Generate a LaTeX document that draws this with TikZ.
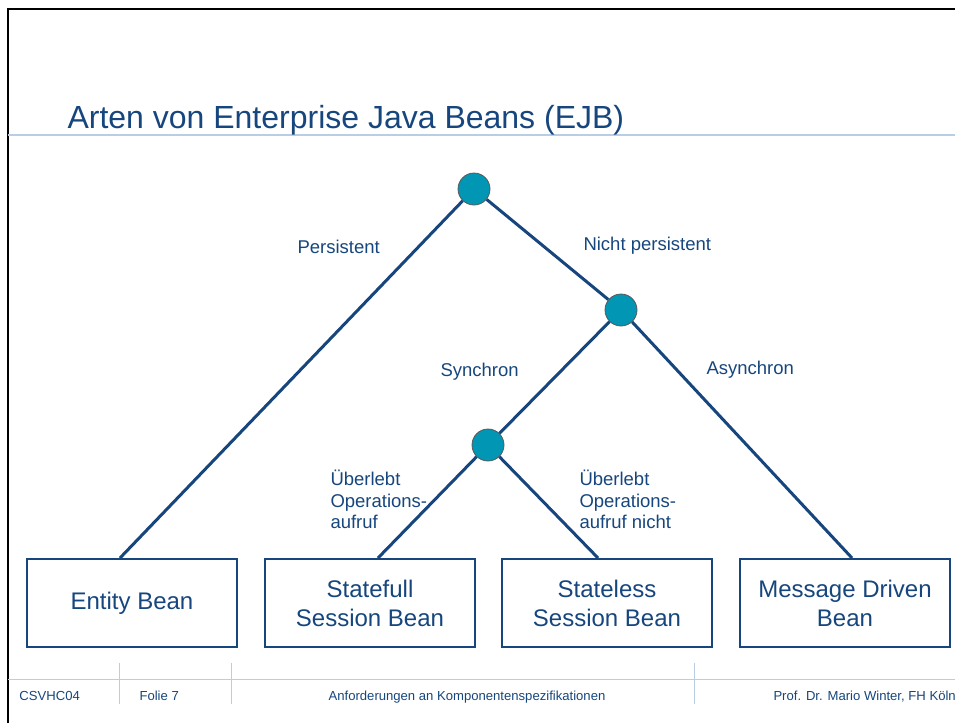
\documentclass[tikz,border=0pt]{standalone}
\usepackage{fontspec}
\setmainfont{Liberation Sans}
\definecolor{ejbblue}{RGB}{22,70,125}
\definecolor{ejbteal}{RGB}{0,150,180}
\definecolor{ejbrule}{RGB}{185,205,228}

\begin{document}
\begin{tikzpicture}[x=1pt, y=-1pt, line width=3pt,
    knoten/.style={circle, draw=black!65, line width=0.8pt, fill=ejbteal, minimum size=32pt, inner sep=0pt},
    bean/.style={draw=ejbblue, line width=2pt, minimum width=210pt, minimum height=88pt, align=center,
                 text=ejbblue, font=\fontsize{24}{29}\selectfont},
    kante/.style={draw=ejbblue},
    etikett/.style={text=ejbblue, inner sep=0pt, font=\fontsize{18.5}{21.5}\selectfont},
    fuss/.style={text=ejbblue, inner sep=0pt, font=\fontsize{13.1}{16}\selectfont}]
   \useasboundingbox (0,0) rectangle (955,723);
   % frame and rules
   \draw[black, line width=2.5pt] (8,723) -- (8,9) -- (955,9);
   \draw[ejbrule, line width=1.5pt] (8,135) -- (955,135);
   \draw[ejbrule, line width=1pt] (8,679) -- (955,679);
   \foreach \x in {119,231,694}
      \draw[ejbrule, line width=1pt] (\x,663) -- (\x,704);
   \node[text=ejbblue, inner sep=0pt, anchor=base west, font=\fontsize{32}{38}\selectfont]
      (titel) at (66,128) {Arten von Enterprise Java Beans (EJB)};

   % decision nodes
   \node[knoten] (root) at (474,189) {};
   \node[knoten] (nopers) at (621,310) {};
   \node[knoten] (sync) at (488,445) {};

   % leaves
   \node[bean] (entity) at (132,603) {Entity Bean};
   \node[bean] (stateful) at (370,603) {Statefull\\Session Bean};
   \node[bean] (stateless) at (607,603) {Stateless\\Session Bean};
   \node[bean] (mdb) at (845,603) {Message Driven\\Bean};

   % edges
   \draw[kante] (root) -- ([xshift=-12pt]entity.north);
   \draw[kante] (root) -- (nopers);
   \draw[kante] (nopers) -- ([xshift=7pt]mdb.north);
   \draw[kante] (nopers) -- (sync);
   \draw[kante] (sync) -- ([xshift=8pt]stateful.north);
   \draw[kante] (sync) -- ([xshift=-9pt]stateless.north);

   % edge labels
   \node[etikett, anchor=base west] (lpers) at (296,253) {Persistent};
   \node[etikett, anchor=base west] (lnopers) at (582,250) {Nicht persistent};
   \node[etikett, anchor=base west] (lsync) at (439,376) {Synchron};
   \node[etikett, anchor=base west] (lasync) at (705,374) {Asynchron};
   \node[etikett, anchor=north west, align=left] (lsf) at (329,469) {Überlebt\\Operations-\\aufruf};
   \node[etikett, anchor=north west, align=left] (lsl) at (578,469) {Überlebt\\Operations-\\aufruf nicht};

   % footer
   \node[fuss, anchor=base west] (kurs) at (18,700) {CSVHC04};
   \node[fuss, anchor=base west] (folie) at (138,700) {Folie 7};
   \node[fuss, anchor=base] (thema) at (467,700) {Anforderungen an Komponentenspezifikationen};
   \node[fuss, anchor=base west] (autor) at (772,700) {Prof. Dr. Mario Winter, FH Köln};
\end{tikzpicture}
\end{document}
